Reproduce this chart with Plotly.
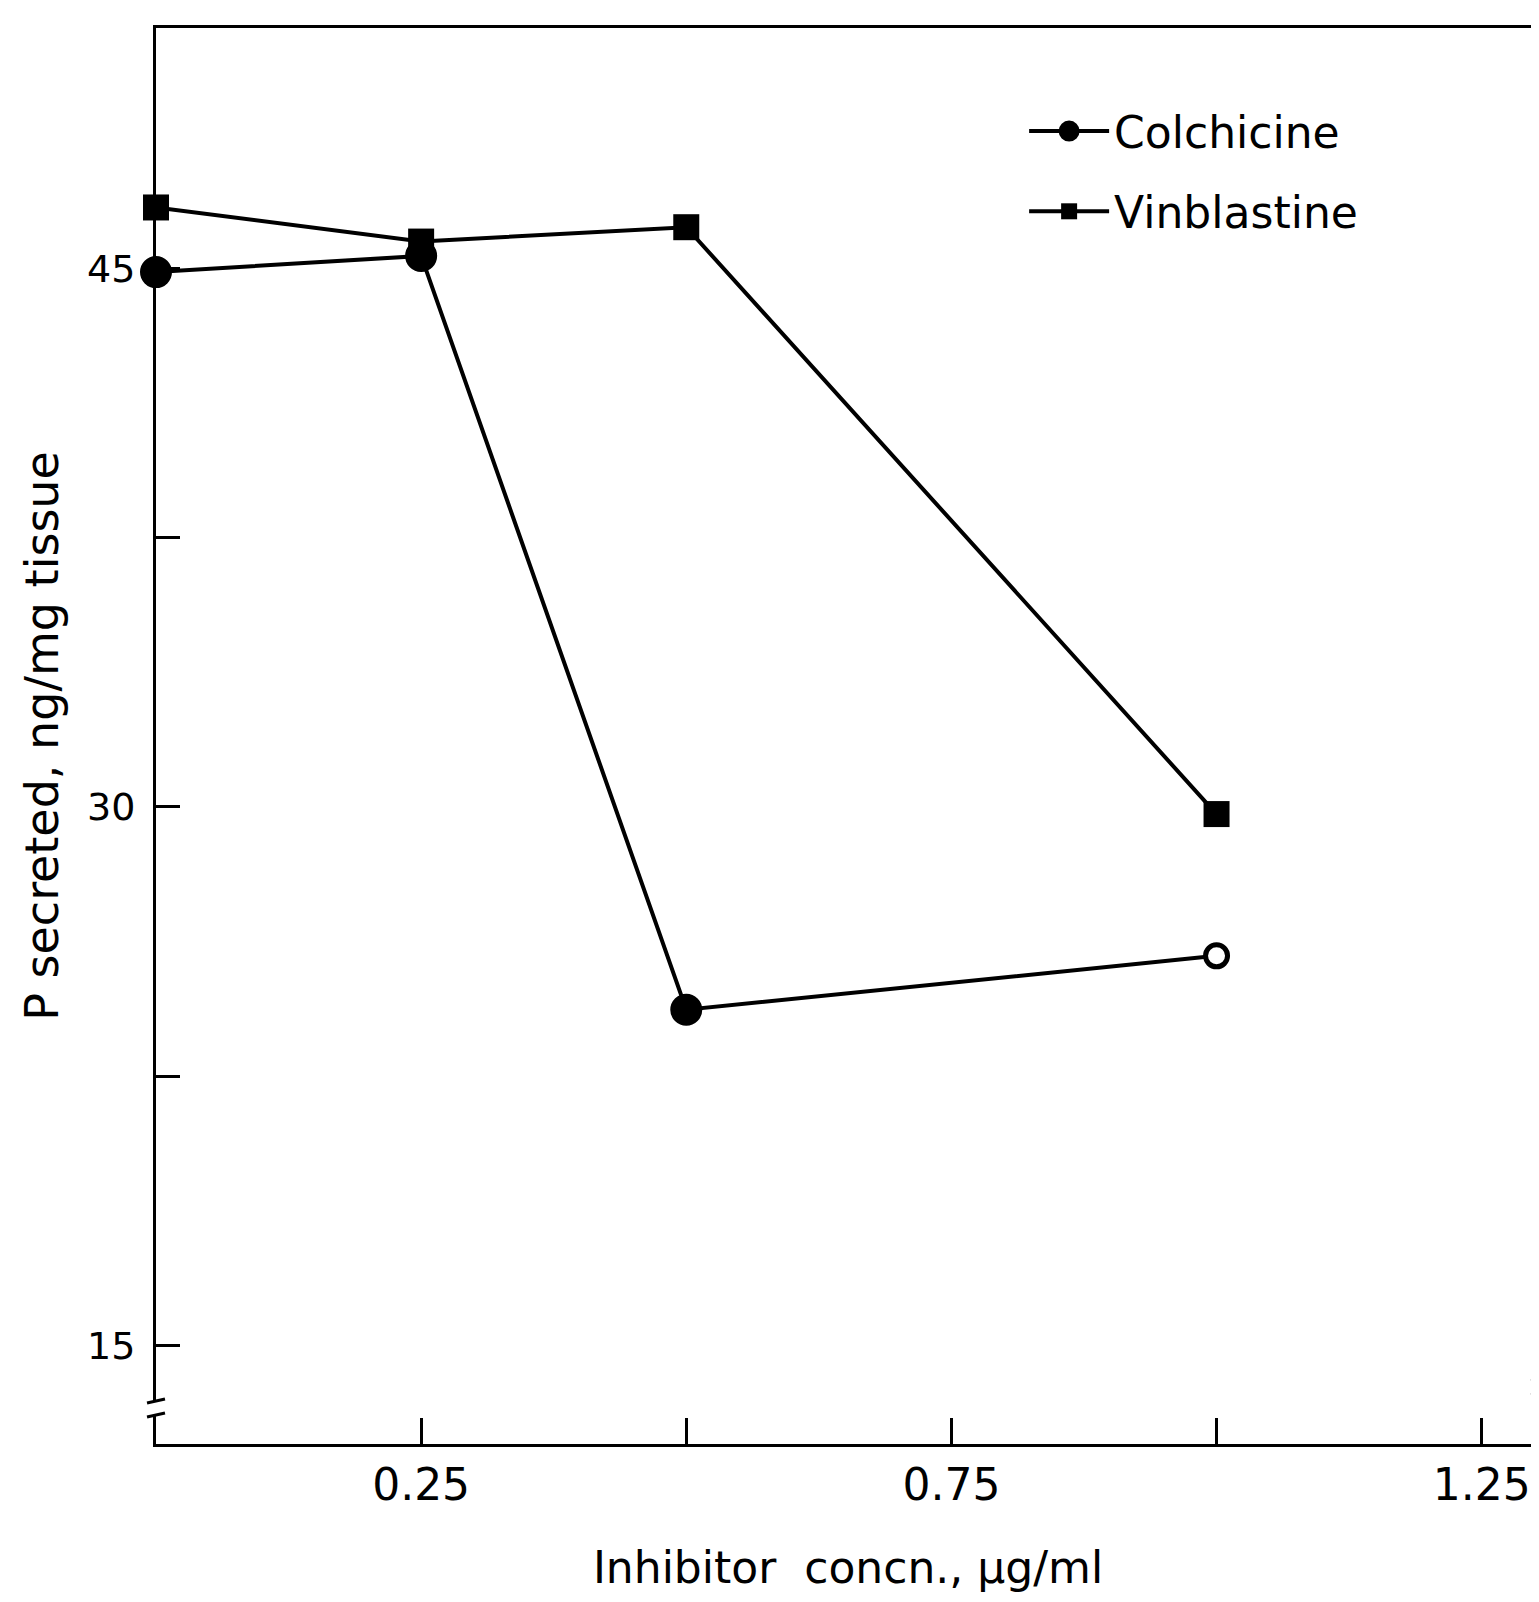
import plotly.graph_objects as go

# ---- data ----
conc_colchicine = [0.0, 0.25, 0.5, 1.0]
p_colchicine = [44.9, 45.35, 24.35, 25.85]
conc_vinblastine = [0.0, 0.25, 0.5, 1.0]
p_vinblastine = [46.7, 45.75, 46.15, 29.8]

x_tickvals = [0.25, 0.5, 0.75, 1.0, 1.25]
x_ticktext = ["0.25", "", "0.75", "", "1.25"]
y_tickvals = [15, 22.5, 30, 37.5, 45]
y_ticktext = ["15", "", "30", "", "45"]

FONT = "DejaVu Sans, Liberation Sans, sans-serif"
BLACK = "#000000"

fig = go.Figure()
fig.add_trace(go.Scatter(
    x=conc_colchicine, y=p_colchicine, mode="lines+markers", name="Colchicine",
    line=dict(color=BLACK, width=4),
    marker=dict(symbol="circle", size=[27, 27, 27, 22], opacity=1,
                color=[BLACK, BLACK, BLACK, "white"], line=dict(color=BLACK, width=5)),
    legendgroup="c", cliponaxis=False,
))
fig.add_trace(go.Scatter(
    x=conc_vinblastine, y=p_vinblastine, mode="lines+markers", name="Vinblastine",
    line=dict(color=BLACK, width=4),
    marker=dict(symbol="square", size=26, color=BLACK, opacity=1),
    legendgroup="v", cliponaxis=False,
))

W, H = 1539, 1602
ML, MR, MT, MB = 148, 4, 20, 166
pw, ph = W - ML - MR, H - MT - MB

def px(xp):
    return (xp - ML) / pw

def py(yp):
    return 1 - (yp - MT) / ph

shapes = []
# axis-break marks on left and right borders
for (xc, yc) in [(148, 1400), (1535, 1378)]:
    shapes.append(dict(type="rect", xref="paper", yref="paper",
                       x0=px(xc - 4), x1=px(xc + 4), y0=py(yc + 7), y1=py(yc - 7),
                       line=dict(width=0), fillcolor="white", layer="above"))
    for dy in (-7, 7):
        shapes.append(dict(type="line", xref="paper", yref="paper",
                           x0=px(xc - 9), x1=px(xc + 9), y0=py(yc + dy + 2), y1=py(yc + dy - 2),
                           line=dict(color=BLACK, width=3), layer="above"))

fig.update_layout(
    width=W, height=H,
    margin=dict(l=ML, r=MR, t=MT, b=MB, pad=0),
    paper_bgcolor="white", plot_bgcolor="white",
    font=dict(family=FONT, color=BLACK),
    showlegend=True,
    legend=dict(x=px(1018), y=py(88), xanchor="left", yanchor="top",
                font=dict(size=44, family=FONT), bgcolor="rgba(0,0,0,0)",
                tracegroupgap=20, itemwidth=80, itemsizing="trace"),
    shapes=shapes,
    xaxis=dict(
        range=[0, 1.305], tickmode="array", tickvals=x_tickvals, ticktext=x_ticktext,
        ticks="inside", ticklen=26, tickwidth=3, tickcolor=BLACK,
        showline=True, linecolor=BLACK, linewidth=3, mirror=True,
        showgrid=False, zeroline=False,
        tickfont=dict(size=44, family=FONT),
        title=dict(text="Inhibitor  concn., µg/ml", font=dict(size=44, family=FONT), standoff=44),
    ),
    yaxis=dict(
        range=[12.25, 51.7], tickmode="array", tickvals=y_tickvals, ticktext=y_ticktext,
        ticks="inside", ticklen=24, tickwidth=3, tickcolor=BLACK,
        showline=True, linecolor=BLACK, linewidth=3, mirror=True,
        showgrid=False, zeroline=False, ticklabelstandoff=10,
        tickfont=dict(size=38, family=FONT),
        title=dict(text="P secreted, ng/mg tissue", font=dict(size=46, family=FONT), standoff=14),
    ),
)

fig.write_html("out.html")
